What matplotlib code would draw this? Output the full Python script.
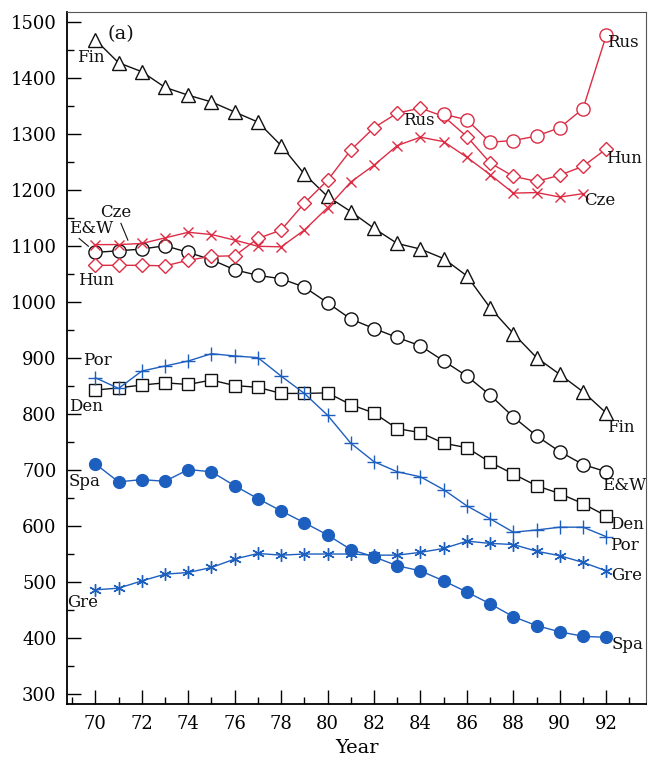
import matplotlib
matplotlib.use("Agg")
import matplotlib.pyplot as plt
from matplotlib.ticker import MultipleLocator

plt.rcParams['font.family'] = ['DejaVu Serif']

years = list(range(70, 93))
fin = [1469, 1428, 1412, 1384, 1370, 1358, 1340, 1322, 1280, 1229, 1189, 1162,
       1132, 1105, 1095, 1078, 1047, 990, 944, 901, 871, 840, 802]
ew = [1089, 1092, 1095, 1101, 1089, 1076, 1058, 1048, 1042, 1027, 999, 970,
      953, 937, 922, 895, 868, 834, 795, 761, 733, 710, 697]
cze_years = list(range(70, 92))
cze = [1103, 1103, 1105, 1115, 1125, 1121, 1111, 1100, 1099, 1129, 1169, 1215,
       1245, 1280, 1295, 1287, 1259, 1228, 1195, 1196, 1188, 1194]
hun = [1066, 1066, 1066, 1065, 1075, 1082, 1083, 1114, 1129, 1177, 1218, 1272,
       1312, 1338, 1347, 1332, 1296, 1249, 1225, 1216, 1227, 1243, 1274]
rus_years = list(range(85, 93))
rus = [1336, 1326, 1286, 1289, 1297, 1312, 1346, 1477]
por = [865, 846, 877, 886, 895, 908, 904, 901, 868, 837, 798, 748,
       715, 697, 688, 665, 636, 613, 589, 593, 598, 598, 581]
den = [843, 847, 852, 856, 853, 861, 851, 848, 837, 837, 838, 817,
       802, 774, 767, 748, 740, 714, 693, 672, 658, 640, 618]
spa = [711, 679, 683, 680, 701, 697, 672, 649, 627, 606, 584, 558,
       545, 529, 520, 502, 482, 461, 438, 422, 411, 403, 401]
gre = [486, 489, 502, 514, 517, 526, 541, 551, 548, 550, 550, 550,
       548, 548, 553, 560, 573, 569, 567, 555, 547, 535, 520]

BLACK = '#111111'
RED = '#dc2d45'
BLUE = '#1d5fbf'

fig = plt.figure(figsize=(6.49, 7.6), dpi=100)
ax = fig.add_axes([0.104, 0.0737, 0.891, 0.910])

lw = 1.0
ax.plot(years, fin, color=BLACK, lw=lw, marker='^', ms=10.5, mfc='white', mec=BLACK, mew=1.0)
ax.plot(years, ew, color=BLACK, lw=lw, marker='o', ms=9.5, mfc='white', mec=BLACK, mew=1.0)
ax.plot(years, den, color=BLACK, lw=lw, marker='s', ms=8, mfc='white', mec=BLACK, mew=1.0)
ax.plot(cze_years, cze, color=RED, lw=lw, marker='x', ms=7, mec=RED, mew=1.0)
ax.plot(years, hun, color=RED, lw=lw, marker='D', ms=7, mfc='white', mec=RED, mew=1.0)
ax.plot(rus_years, rus, color=RED, lw=lw, marker='o', ms=9.5, mfc='white', mec=RED, mew=1.0)
ax.plot(years, por, color=BLUE, lw=lw, marker='+', ms=10, mec=BLUE, mew=1.0)
ax.plot(years, spa, color=BLUE, lw=lw, marker='o', ms=8.5, mfc=BLUE, mec=BLUE)
ax.plot(years, gre, color=BLUE, lw=lw, marker=(6, 2, 0), ms=9, mec=BLUE, mew=1.0)

ax.set_xlim(68.8, 93.7)
ax.set_ylim(282, 1518)
ax.xaxis.set_major_locator(MultipleLocator(2))
ax.xaxis.set_minor_locator(MultipleLocator(1))
ax.yaxis.set_major_locator(MultipleLocator(100))
ax.yaxis.set_minor_locator(MultipleLocator(50))
ax.set_xticks(list(range(70, 93, 2)))
ax.tick_params(axis='x', which='major', direction='in', length=10, width=1.0,
               labelsize=13, pad=8, top=False)
ax.tick_params(axis='x', which='minor', direction='in', length=5, width=1.0, top=False)
ax.tick_params(axis='y', which='major', direction='in', length=10, width=1.0,
               labelsize=13, pad=8, right=False)
ax.tick_params(axis='y', which='minor', direction='in', length=5, width=1.0, right=False)
ax.set_xlabel('Year', fontsize=14, labelpad=4)
for s in ['left', 'bottom']:
    ax.spines[s].set_linewidth(1.3)
for s in ['top', 'right']:
    ax.spines[s].set_linewidth(0.8)
    ax.spines[s].set_color('#555555')

fs = 12
labels = [
    ('(a)', 71.1, 1479, 14),
    ('Fin', 69.81, 1437, fs),
    ('Cze', 70.89, 1161, fs),
    ('E&W', 69.81, 1132, fs),
    ('Hun', 70.03, 1038, fs),
    ('Rus', 83.95, 1324, fs),
    ('Rus', 92.73, 1464, fs),
    ('Hun', 92.77, 1257, fs),
    ('Cze', 91.70, 1182, fs),
    ('Fin', 92.63, 777, fs),
    ('E&W', 92.77, 673, fs),
    ('Den', 92.90, 602, fs),
    ('Por', 92.77, 566, fs),
    ('Por', 70.10, 895, fs),
    ('Den', 69.60, 814, fs),
    ('Spa', 69.53, 679, fs),
    ('Gre', 92.87, 511, fs),
    ('Spa', 92.91, 389, fs),
    ('Gre', 69.43, 463, fs),
]
for t, x, y, s in labels:
    ax.text(x, y, t, fontsize=s, ha='center', va='center', color=BLACK)

# leader lines
ax.plot([71.1, 71.4], [1141, 1111], color=BLACK, lw=0.8)
ax.plot([69.3, 69.7], [1114, 1100], color=BLACK, lw=0.8)

fig.savefig('out.png', dpi=100)
